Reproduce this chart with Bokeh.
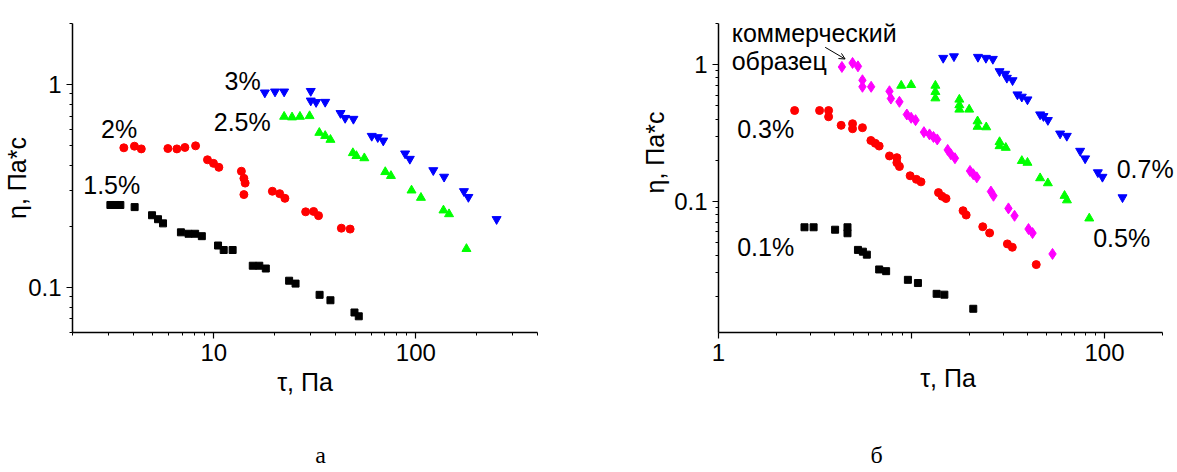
import math

from bokeh.embed import file_html
from bokeh.layouts import column, row
from bokeh.models import (Arrow, CustomJSTickFormatter, FixedTicker, Label,
                          OpenHead, Range1d, Title)
from bokeh.plotting import figure
from bokeh.resources import INLINE

# ---------- panel (а): viscosity vs shear stress, 1.5 - 3 % ----------
tau_15 = [3.08, 3.27, 3.45, 4.06, 4.95, 5.30, 5.61, 6.88, 7.50, 8.09, 8.73, 10.5,
          11.2, 12.4, 15.6, 16.8, 18.1, 23.6, 25.4, 33.4, 37.8, 49.7, 52.2]
eta_15 = [0.255, 0.255, 0.255, 0.249, 0.227, 0.217, 0.207, 0.187, 0.184, 0.184,
          0.179, 0.161, 0.153, 0.153, 0.128, 0.128, 0.124, 0.108, 0.1045, 0.092,
          0.0865, 0.0753, 0.0721]

tau_2 = [3.59, 4.05, 4.38, 5.93, 6.57, 7.20, 8.13, 9.31, 9.97, 10.6, 13.7, 14.1,
         14.3, 14.1, 19.5, 21.2, 22.5, 28.5, 31.2, 33.0, 42.8, 47.3]
eta_2 = [0.488, 0.497, 0.482, 0.484, 0.482, 0.490, 0.499, 0.426, 0.409, 0.391,
         0.374, 0.345, 0.327, 0.287, 0.298, 0.290, 0.275, 0.236, 0.237, 0.226,
         0.196, 0.194]

tau_25 = [22.3, 24.4, 26.7, 29.8, 33.3, 35.6, 37.8, 48.8, 50.8, 55.6, 70.6, 75.3,
          95.2, 106, 137, 146, 178]
eta_25 = [0.695, 0.690, 0.695, 0.700, 0.579, 0.559, 0.535, 0.460, 0.445, 0.434,
          0.371, 0.355, 0.301, 0.277, 0.240, 0.230, 0.155]

tau_3 = [17.9, 20.1, 22.3, 30.2, 30.2, 32.1, 35.6, 42.4, 44.7, 49.1, 60.5, 64.8,
         69.0, 88.5, 93.4, 122, 138, 173, 182, 251]
eta_3 = [0.913, 0.923, 0.923, 0.929, 0.833, 0.819, 0.821, 0.723, 0.684, 0.677,
         0.558, 0.550, 0.529, 0.457, 0.430, 0.378, 0.351, 0.298, 0.279, 0.217]

# ---------- panel (б): 0.1 - 0.7 % and the commercial sample ----------
tau_01 = [2.79, 3.11, 4.02, 4.66, 4.66, 5.28, 5.60, 5.87, 6.80, 7.39, 9.58, 10.8,
          13.5, 14.8, 20.9]
eta_01 = [0.0647, 0.0647, 0.0621, 0.0647, 0.0585, 0.0442, 0.0429, 0.0408, 0.0318,
          0.0309, 0.0267, 0.0253, 0.0211, 0.0208, 0.0164]

tau_03 = [2.48, 3.34, 3.72, 3.72, 4.32, 4.95, 4.95, 5.57, 6.16, 6.49, 6.80, 7.69,
          8.40, 8.40, 8.66, 9.84, 10.6, 11.2, 13.8, 14.4, 15.1, 18.5, 19.2, 23.4,
          25.4, 31.4, 33.3, 44.3]
eta_03 = [0.462, 0.462, 0.462, 0.416, 0.360, 0.370, 0.340, 0.346, 0.279, 0.266,
          0.254, 0.215, 0.209, 0.192, 0.180, 0.154, 0.145, 0.139, 0.116, 0.109,
          0.105, 0.0855, 0.0795, 0.0653, 0.0588, 0.0489, 0.0462, 0.0345]

tau_com = [4.36, 4.95, 5.28, 5.57, 5.57, 6.18, 7.69, 7.82, 8.66, 9.46, 9.96, 10.5,
           11.6, 12.4, 13.0, 13.6, 15.4, 16.0, 16.8, 20.1, 20.9, 21.8, 25.8, 26.6,
           31.8, 34.2, 40.4, 42.4, 53.8]
eta_com = [0.962, 1.029, 0.972, 0.769, 0.689, 0.689, 0.639, 0.565, 0.535, 0.432,
           0.409, 0.393, 0.321, 0.309, 0.296, 0.284, 0.238, 0.221, 0.207, 0.167,
           0.158, 0.150, 0.118, 0.110, 0.0889, 0.0785, 0.0628, 0.0587, 0.0413]

tau_05 = [8.85, 9.96, 13.3, 13.3, 13.3, 17.7, 17.7, 17.7, 19.9, 22.0, 22.0, 24.4,
          28.6, 28.6, 30.8, 37.3, 39.9, 46.4, 50.9, 62.1, 63.9, 83.4]
eta_05 = [0.703, 0.711, 0.703, 0.633, 0.568, 0.556, 0.506, 0.470, 0.470, 0.386,
          0.352, 0.349, 0.272, 0.254, 0.247, 0.198, 0.192, 0.148, 0.136, 0.110,
          0.102, 0.0752]

tau_07 = [14.6, 16.6, 22.1, 24.3, 26.4, 28.6, 30.6, 31.2, 33.4, 35.4, 37.3, 39.9,
          46.4, 48.3, 50.9, 58.9, 63.8, 74.8, 79.4, 92.4, 97.6, 124]
eta_07 = [1.119, 1.149, 1.138, 1.119, 1.100, 0.894, 0.856, 0.800, 0.768, 0.605,
          0.582, 0.556, 0.432, 0.420, 0.393, 0.313, 0.301, 0.234, 0.206, 0.163,
          0.151, 0.107]

# ---------- ticks ----------
a_x_ticks = [10, 100]
a_x_labels = ["10", "100"]
a_y_ticks = [0.1, 1]
a_y_labels = ["0.1", "1"]
b_x_ticks = [1, 10, 100]
b_x_labels = ["1", "", "100"]
b_y_ticks = [0.1, 1]
b_y_labels = ["0.1", "1"]

FONT = "Liberation Sans"
TICK_SIZE = "24px"
TEXT_SIZE = "25px"
X_TITLE = "τ, Па"
Y_TITLE = "η, Па*с"
PANEL_H = 420
CAPTION_H = 52


def minor_between(lo, hi):
    out = []
    d = 10 ** math.floor(math.log10(lo))
    while d <= hi:
        for k in range(2, 10):
            v = k * d
            if lo <= v <= hi:
                out.append(v)
        d *= 10
    return out


def labeller(ticks, labels):
    return CustomJSTickFormatter(args=dict(vals=ticks, labs=labels), code="""
        for (let i = 0; i < vals.length; i++) {
            if (Math.abs(Math.log10(vals[i]) - Math.log10(tick)) < 1e-6) return labs[i];
        }
        return '';
    """)


def make_panel(width, x_range, x_bounds, y_range, borders, xt, xl, yt, yl,
               x_title_gap):
    left, right, top, bottom = borders
    p = figure(width=width, height=PANEL_H, x_axis_type="log", y_axis_type="log",
               x_range=x_range, y_range=y_range, output_backend="svg",
               toolbar_location=None, min_border_left=left, min_border_right=right,
               min_border_top=top, min_border_bottom=bottom)
    p.outline_line_color = None
    p.grid.grid_line_color = None
    p.background_fill_color = "white"
    p.border_fill_color = "white"
    p.xaxis.bounds = x_bounds
    p.xaxis.ticker = FixedTicker(ticks=xt, minor_ticks=minor_between(*x_bounds))
    p.yaxis.ticker = FixedTicker(ticks=yt, minor_ticks=minor_between(*y_range))
    p.xaxis.formatter = labeller(xt, xl)
    p.yaxis.formatter = labeller(yt, yl)
    for ax in (p.xaxis[0], p.yaxis[0]):
        ax.axis_line_color = "black"
        ax.axis_line_width = 1.5
        ax.major_tick_line_color = "black"
        ax.minor_tick_line_color = "black"
        ax.major_tick_line_width = 1.2
        ax.minor_tick_line_width = 1.0
        ax.major_tick_in = 0
        ax.major_tick_out = 6
        ax.minor_tick_in = 0
        ax.minor_tick_out = 3
        ax.major_label_text_font = FONT
        ax.major_label_text_font_size = TICK_SIZE
        ax.major_label_text_color = "black"
        ax.axis_label_text_font = FONT
        ax.axis_label_text_font_size = TEXT_SIZE
        ax.axis_label_text_font_style = "normal"
        ax.axis_label_text_color = "black"
    p.xaxis.major_label_standoff = 5
    p.yaxis.major_label_standoff = 5
    p.xaxis.axis_label = X_TITLE
    p.xaxis.axis_label_standoff = x_title_gap
    return p


def note(p, text, x, y, baseline="middle"):
    p.add_layout(Label(x=x, y=y, text=text, text_font=FONT,
                       text_font_size=TEXT_SIZE, text_color="black",
                       text_align="left", text_baseline=baseline))


# ---------- panel (а) ----------
pa = make_panel(590, (2, 400), (2, 400), (0.06, 2), (71, 53, 13, 87),
                a_x_ticks, a_x_labels, a_y_ticks, a_y_labels, 4)
pa.yaxis.axis_label = Y_TITLE
pa.yaxis.axis_label_standoff = -6
pa.scatter(tau_15, eta_15, marker="square", size=7, color="black")
pa.scatter(tau_2, eta_2, marker="circle", size=8, color="red")
pa.scatter(tau_25, eta_25, marker="triangle", size=9, color="#00ff00")
pa.scatter(tau_3, eta_3, marker="inverted_triangle", size=9, color="blue")

note(pa, "3%", 11.3, 1.04)
note(pa, "2.5%", 10.0, 0.653)
note(pa, "2%", 2.77, 0.605)
note(pa, "1.5%", 2.26, 0.321)

# ---------- panel (б) ----------
pb = make_panel(587, (1, 239), (1, 200), (0.011, 2), (128, 0, 23, 88),
                b_x_ticks, b_x_labels, b_y_ticks, b_y_labels, 0)
# the y title of this panel sits above the middle of the axis
pb.add_layout(Title(text=Y_TITLE, align="left", offset=139, standoff=6,
                    text_font=FONT, text_font_size=TEXT_SIZE,
                    text_font_style="normal", text_color="black"), "left")
pb.scatter(tau_01, eta_01, marker="square", size=7, color="black")
pb.scatter(tau_03, eta_03, marker="circle", size=8, color="red")
pb.scatter(tau_com, eta_com, marker="diamond", size=11, color="#ff00ff")
pb.scatter(tau_05, eta_05, marker="triangle", size=9, color="#00ff00")
pb.scatter(tau_07, eta_07, marker="inverted_triangle", size=9, color="blue")

note(pb, "коммерческий", 1.17, 1.70, baseline="alphabetic")
note(pb, "образец", 1.17, 1.057, baseline="alphabetic")
pb.add_layout(Arrow(end=OpenHead(size=6, line_width=1, line_color="black"),
                    x_start=3.57, y_start=1.34, x_end=4.53, y_end=1.10,
                    line_color="black", line_width=1))
note(pb, "0.3%", 1.25, 0.340)
note(pb, "0.1%", 1.25, 0.0462)
note(pb, "0.7%", 115.7, 0.172)
note(pb, "0.5%", 87.4, 0.0537)

# ---------- caption strip with the panel letters ----------
cap = figure(width=1177, height=CAPTION_H, x_range=Range1d(0, 1177),
             y_range=Range1d(0, CAPTION_H), output_backend="svg",
             toolbar_location=None, min_border=0)
cap.axis.visible = False
cap.grid.grid_line_color = None
cap.outline_line_color = None
for letter, xpos in (("а", 320), ("б", 876)):
    cap.add_layout(Label(x=xpos, y=18, text=letter, text_font="Liberation Serif",
                         text_font_size="24px", text_color="black",
                         text_align="center", text_baseline="middle"))

layout = column(row(pa, pb), cap)

with open("out.html", "w") as f:
    f.write(file_html(layout, INLINE))
